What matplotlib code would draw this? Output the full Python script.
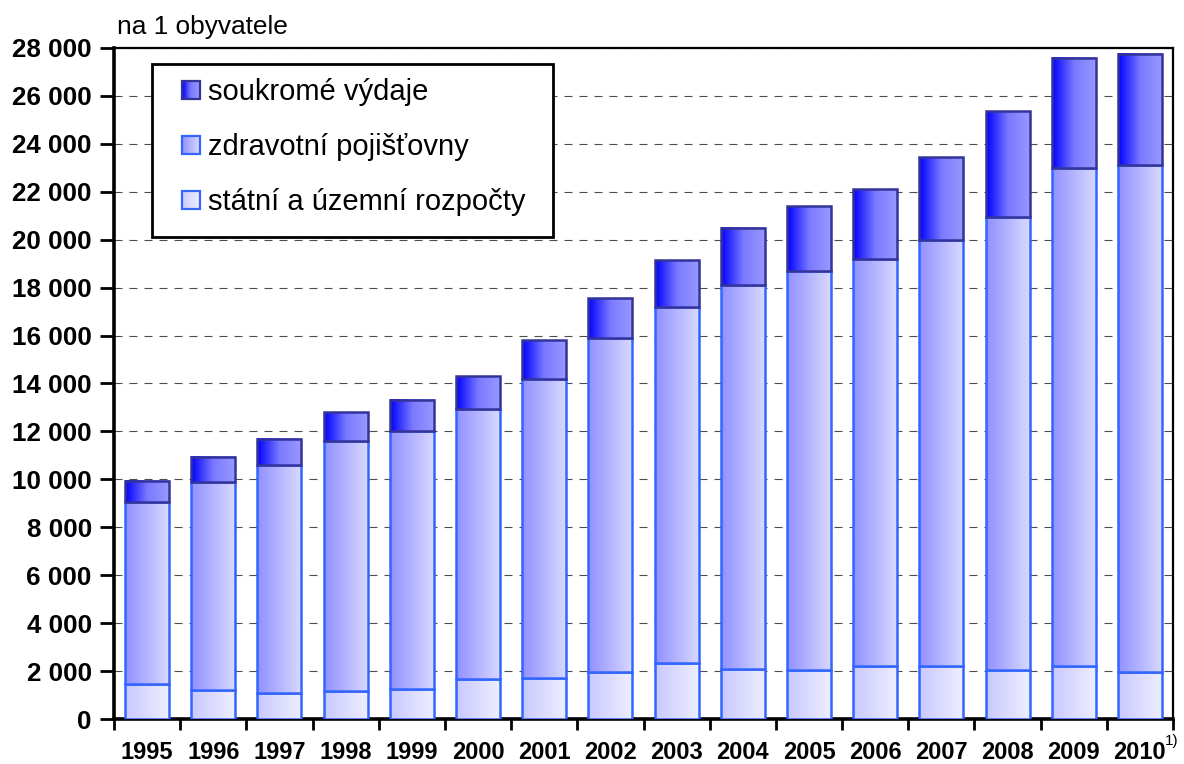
import numpy as np
import matplotlib
matplotlib.use("Agg")
import matplotlib.pyplot as plt
from matplotlib.colors import LinearSegmentedColormap
from matplotlib.patches import Rectangle
from matplotlib.legend_handler import HandlerBase
from matplotlib.ticker import MultipleLocator, FuncFormatter

plt.rcParams['font.family'] = ['Liberation Sans', 'DejaVu Sans']

years = ['1995', '1996', '1997', '1998', '1999', '2000', '2001', '2002',
         '2003', '2004', '2005', '2006', '2007', '2008', '2009', '2010']
# state and regional budgets
statni = [1450, 1200, 1100, 1150, 1250, 1650, 1700, 1950,
          2350, 2100, 2050, 2200, 2200, 2050, 2200, 1950]
# health insurance companies
pojistovny = [7600, 8700, 9500, 10450, 10750, 11300, 12500, 13950,
              14850, 16000, 16650, 17000, 17800, 18900, 20800, 21150]
# private expenditure
soukrome = [900, 1050, 1100, 1200, 1300, 1350, 1600, 1650,
            1950, 2400, 2700, 2900, 3450, 4400, 4600, 4650]

labels = ['státní a územní rozpočty', 'zdravotní pojišťovny', 'soukromé výdaje']

cm_state = LinearSegmentedColormap.from_list('st', ['#c8c8ff', '#efefff'])
cm_health = LinearSegmentedColormap.from_list('zp', ['#9090ff', '#dadaff'])
cm_priv = LinearSegmentedColormap.from_list('sv', ['#0000ff', '#7a7aff', '#9a9aff'])
edge_light = '#3366ff'
edge_dark = '#333399'

fig = plt.figure(figsize=(11.84, 7.64), dpi=100)
ax = fig.add_axes([0.0963, 0.0589, 0.8944, 0.8783])

x = np.arange(len(years))
w = 0.665
grad = np.linspace(0, 1, 256).reshape(1, -1)

b1 = np.array(statni)
b2 = b1 + np.array(pojistovny)

series = [
    (statni, np.zeros(len(years)), cm_state, edge_light),
    (pojistovny, b1, cm_health, edge_light),
    (soukrome, b2, cm_priv, edge_dark),
]

z = 3
for vals, bottom, cmap, ec in series:
    bars = ax.bar(x, vals, w, bottom=bottom, facecolor='none',
                  edgecolor=ec, linewidth=1.8, zorder=z + 1)
    for p in bars.patches:
        x0, y0 = p.get_x(), p.get_y()
        ax.imshow(grad, cmap=cmap, extent=[x0, x0 + p.get_width(), y0, y0 + p.get_height()],
                  aspect='auto', zorder=z, interpolation='bilinear')
    z += 2

ax.set_xlim(-0.5, len(years) - 0.5)
ax.set_ylim(0, 28000)
ax.yaxis.set_major_locator(MultipleLocator(2000))
ax.yaxis.set_major_formatter(FuncFormatter(lambda v, p: f"{int(v):,}".replace(',', ' ')))
ax.yaxis.grid(True, color='#4d4d4d', linestyle=(0, (7.2, 6.3)), linewidth=0.8)
ax.set_axisbelow(True)

ax.set_xticks(np.arange(-0.5, len(years), 1))
ax.set_xticklabels([])
ax.set_xticks(x, minor=True)
ax.set_xticklabels(years, minor=True, fontweight='bold', fontsize=17)
ax.tick_params(axis='x', which='major', direction='out', length=8, width=2)
ax.tick_params(axis='x', which='minor', length=0, pad=16)
ax.tick_params(axis='y', direction='out', length=10, width=2, pad=6, labelsize=18.7)
for t in ax.get_yticklabels():
    t.set_fontweight('bold')

for s in ['left', 'bottom']:
    ax.spines[s].set_linewidth(2.6)
for s in ['top', 'right']:
    ax.spines[s].set_linewidth(1.6)


class GradHandler(HandlerBase):
    def __init__(self, cmap, ec):
        super().__init__()
        self.cmap = cmap
        self.ec = ec

    def create_artists(self, legend, orig_handle, xdescent, ydescent, width, height,
                       fontsize, trans):
        size = 0.62 * fontsize
        x0 = width - size - xdescent
        y0 = (height - size) / 2 - ydescent
        arts = []
        n = 20
        for i in range(n):
            arts.append(Rectangle((x0 + i * size / n, y0), size / n + 0.3, size,
                                  facecolor=self.cmap((i + 0.5) / n), edgecolor='none',
                                  transform=trans))
        arts.append(Rectangle((x0, y0), size, size, facecolor='none', edgecolor=self.ec,
                              linewidth=1.6, transform=trans))
        return arts


# legend box
ax.add_patch(Rectangle((0.0359, 0.7183), 0.3786, 0.2579, transform=ax.transAxes,
                       facecolor='white', edgecolor='black', linewidth=2, zorder=15))

proxies = [Rectangle((0, 0), 1, 1) for _ in range(3)]
hmap = {proxies[0]: GradHandler(cm_priv, edge_dark),
        proxies[1]: GradHandler(cm_health, edge_light),
        proxies[2]: GradHandler(cm_state, edge_light)}
leg = ax.legend(proxies, [labels[2], labels[1], labels[0]], handler_map=hmap,
                loc='upper left', bbox_to_anchor=(0.0529, 0.9555), borderaxespad=0,
                fontsize=21, frameon=False, borderpad=0, handlelength=1.03,
                handletextpad=0.28, labelspacing=0.93)
leg.set_zorder(20)

fig.text(117 / 1184, 1 - 27 / 764, 'na 1 obyvatele', fontsize=18.9, va='center', ha='left')
fig.text(1165 / 1184, 1 - 741 / 764, '1)', fontsize=11, va='center', ha='left')

fig.savefig('out.png', dpi=100)
